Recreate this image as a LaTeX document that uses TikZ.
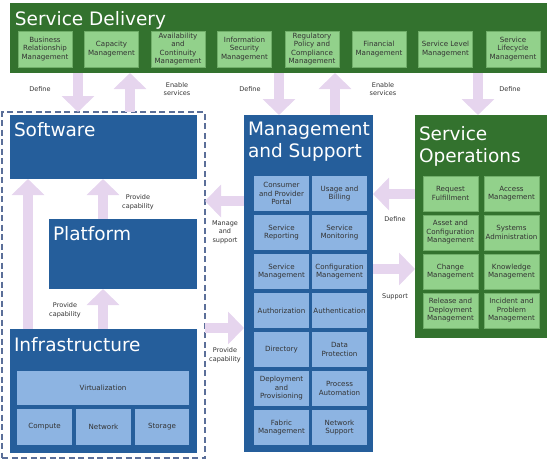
\documentclass[tikz,border=0pt]{standalone}
\usepackage{fontspec}
\setmainfont{DejaVu Sans}
\usetikzlibrary{arrows.meta}
\definecolor{sdgreen}{HTML}{33722E}
\definecolor{itemgreen}{HTML}{92D18B}
\definecolor{itemgreenline}{HTML}{70AE69}
\definecolor{areablue}{HTML}{255E9B}
\definecolor{itemblue}{HTML}{8DB4E2}
\definecolor{flowpurple}{HTML}{E6D5EE}
\definecolor{dashblue}{HTML}{5B6F99}
\definecolor{textgray}{HTML}{333333}

\begin{document}
\begin{tikzpicture}[x=1pt, y=-1pt,
     every node/.style={inner sep=0pt, outer sep=0pt},
     area/.style={anchor=north west, fill=areablue},
     greenarea/.style={anchor=north west, fill=sdgreen},
     title/.style={anchor=base west, text=white, align=left, font=\fontsize{18.5}{22}\selectfont},
     greenitem/.style={anchor=north west, fill=itemgreen, draw=itemgreenline, line width=0.4pt, minimum width=54pt, minimum height=36pt, align=center, text=textgray, font=\fontsize{7.1}{8.5}\selectfont},
     blueitem/.style={anchor=north west, fill=itemblue, minimum width=55pt, minimum height=35pt, align=center, text=textgray, font=\fontsize{7.1}{8.5}\selectfont},
     flowlabel/.style={align=center, text=textgray, font=\fontsize{6.5}{8.5}\selectfont},
     flow/.style={draw=flowpurple, line width=10pt, -{Triangle[width=32pt,length=16pt]}}]

   \useasboundingbox (0,0) rectangle (550,461);

   % service delivery bar
   \node[greenarea, minimum width=537pt, minimum height=70pt] (sd) at (10,3) {};
   \node[title] (sdtitle) at ([shift={(5,22)}]sd.north west) {Service Delivery};
   \node[greenitem] (brm) at (18,31) {Business\\Relationship\\Management};
   \node[greenitem] (cap) at (84.5,31) {Capacity\\Management};
   \node[greenitem] (avail) at (151,31) {Availability\\and\\Continuity\\Management};
   \node[greenitem] (infosec) at (217.5,31) {Information\\Security\\Management};
   \node[greenitem] (reg) at (285,31) {Regulatory\\Policy and\\Compliance\\Management};
   \node[greenitem] (fin) at (352,31) {Financial\\Management};
   \node[greenitem] (slm) at (418.5,31) {Service Level\\Management};
   \node[greenitem] (life) at (486,31) {Service\\Lifecycle\\Management};

   % cloud stack
   \node[anchor=north west, draw=dashblue, line width=1.1pt, dash pattern=on 6pt off 3.5pt, minimum width=203pt, minimum height=346pt] (stack) at (2,112) {};
   \node[area, minimum width=187pt, minimum height=64pt] (soft) at (10,115) {};
   \node[title] (softtitle) at ([shift={(4,21)}]soft.north west) {Software};
   \node[area, minimum width=148pt, minimum height=70pt] (plat) at (49,219) {};
   \node[title] (plattitle) at ([shift={(4,21)}]plat.north west) {Platform};
   \node[area, minimum width=187pt, minimum height=124pt] (infra) at (10,329) {};
   \node[title] (infratitle) at ([shift={(4,22)}]infra.north west) {Infrastructure};
   \node[blueitem, minimum width=172pt, minimum height=34pt] (virt) at (17,371) {Virtualization};
   \node[blueitem, minimum height=36pt] (comp) at (17,409) {Compute};
   \node[blueitem, minimum height=36pt] (net) at (76,409) {Network};
   \node[blueitem, minimum width=54pt, minimum height=36pt] (stor) at (135,409) {Storage};

   % management and support
   \node[area, minimum width=129pt, minimum height=337pt] (ms) at (244,115) {};
   \node[title] (mstitle) at ([shift={(4,42)}]ms.north west) {Management\\and Support};
   \node[blueitem] (portal) at (254,176) {Consumer\\and Provider\\Portal};
   \node[blueitem] (billing) at (312,176) {Usage and\\Billing};
   \node[blueitem] (report) at (254,215) {Service\\Reporting};
   \node[blueitem] (monitor) at (312,215) {Service\\Monitoring};
   \node[blueitem] (svcmgmt) at (254,254) {Service\\Management};
   \node[blueitem] (config) at (312,254) {Configuration\\Management};
   \node[blueitem] (authz) at (254,293) {Authorization};
   \node[blueitem] (authn) at (312,293) {Authentication};
   \node[blueitem] (dir) at (254,332) {Directory};
   \node[blueitem] (dataprot) at (312,332) {Data\\Protection};
   \node[blueitem] (deploy) at (254,371) {Deployment\\and\\Provisioning};
   \node[blueitem] (process) at (312,371) {Process\\Automation};
   \node[blueitem] (fabric) at (254,410) {Fabric\\Management};
   \node[blueitem] (netsup) at (312,410) {Network\\Support};

   % service operations
   \node[greenarea, minimum width=132pt, minimum height=223pt] (so) at (415,115) {};
   \node[title] (sotitle) at ([shift={(4,47)}]so.north west) {Service\\Operations};
   \node[greenitem, minimum width=55pt, minimum height=35pt] (request) at (423,176) {Request\\Fulfillment};
   \node[greenitem, minimum width=55pt, minimum height=35pt] (access) at (484,176) {Access\\Management};
   \node[greenitem, minimum width=55pt, minimum height=35pt] (asset) at (423,215) {Asset and\\Configuration\\Management};
   \node[greenitem, minimum width=55pt, minimum height=35pt] (sysadmin) at (484,215) {Systems\\Administration};
   \node[greenitem, minimum width=55pt, minimum height=35pt] (change) at (423,254) {Change\\Management};
   \node[greenitem, minimum width=55pt, minimum height=35pt] (knowledge) at (484,254) {Knowledge\\Management};
   \node[greenitem, minimum width=55pt, minimum height=35pt] (release) at (423,293) {Release and\\Deployment\\Management};
   \node[greenitem, minimum width=55pt, minimum height=35pt] (incident) at (484,293) {Incident and\\Problem\\Management};

   % flows
   \draw[flow] (sd.south -| 78,0) -- (stack.north -| 78,0);
   \draw[flow] (stack.north -| 130,0) -- (sd.south -| 130,0);
   \draw[flow] (sd.south -| 279,0) -- (ms.north -| 279,0);
   \draw[flow] (ms.north -| 335,0) -- (sd.south -| 335,0);
   \draw[flow] (sd.south -| 478,0) -- (so.north -| 478,0);
   \draw[flow] (infra.north -| 28,0) -- (soft.south -| 28,0);
   \draw[flow] (plat.north -| 103,0) -- (soft.south -| 103,0);
   \draw[flow] (infra.north -| 103,0) -- (plat.south -| 103,0);
   \draw[flow] (ms.west |- 0,201) -- (stack.east |- 0,201);
   \draw[flow] (stack.east |- 0,328) -- (ms.west |- 0,328);
   \draw[flow] (so.west |- 0,194) -- (ms.east |- 0,194);
   \draw[flow] (ms.east |- 0,269) -- (so.west |- 0,269);

   \node[flowlabel] (define1) at (40,89) {Define};
   \node[flowlabel] (enable1) at (177,89) {Enable\\services};
   \node[flowlabel] (define2) at (250,89) {Define};
   \node[flowlabel] (enable2) at (383,89) {Enable\\services};
   \node[flowlabel] (define3) at (510,89) {Define};
   \node[flowlabel] (provide1) at (138,202) {Provide\\capability};
   \node[flowlabel] (provide2) at (65,310) {Provide\\capability};
   \node[flowlabel] (manage) at (225,232) {Manage\\and\\support};
   \node[flowlabel] (provide3) at (225,355) {Provide\\capability};
   \node[flowlabel] (define4) at (395,219) {Define};
   \node[flowlabel] (support) at (395,297) {Support};
\end{tikzpicture}
\end{document}
